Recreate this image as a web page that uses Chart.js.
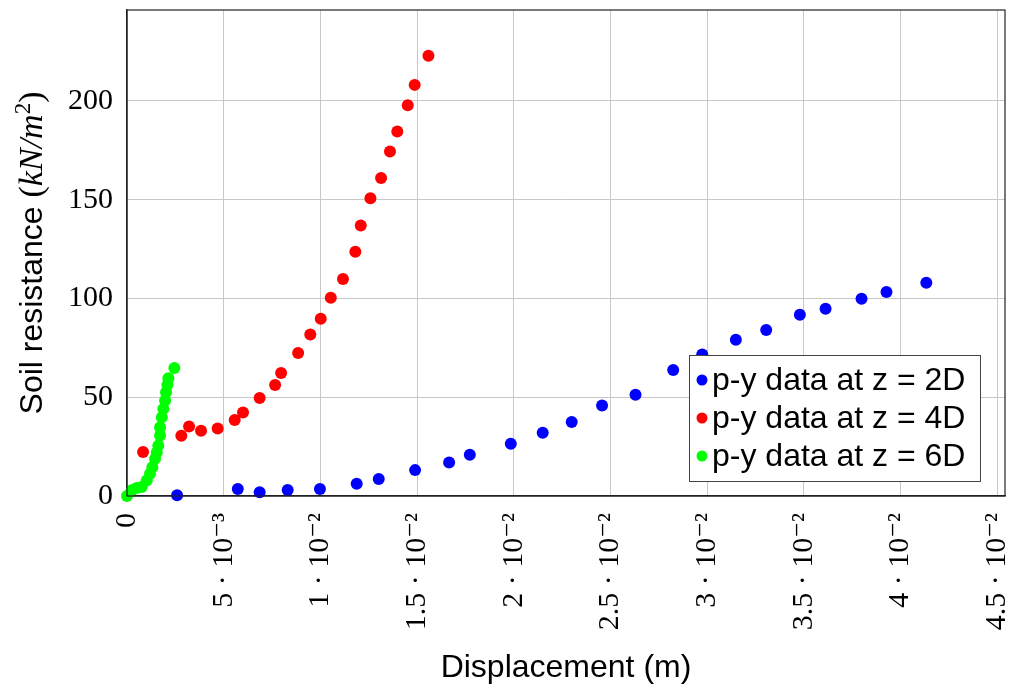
<!DOCTYPE html>
<html>
<head>
<meta charset="utf-8">
<script src="https://cdn.jsdelivr.net/npm/chart.js@4/dist/chart.umd.min.js"></script>
<style>
  html, body { margin: 0; padding: 0; background: #fff; }
  #wrap { width: 1015px; height: 689px; position: relative; }
</style>
</head>
<body>
<div id="wrap"><canvas id="pyChart" width="1015" height="689"></canvas></div>
<script>
// p-y data: displacement (m), soil resistance (kN/m^2)
const disp2D = [0.00259, 0.00573, 0.00686, 0.00831, 0.00998, 0.01188, 0.01302, 0.0149, 0.01666, 0.01773,
  0.01985, 0.0215, 0.023, 0.02457, 0.0263, 0.02825, 0.02975, 0.03149, 0.03306, 0.0348, 0.03613, 0.03799, 0.03928, 0.04134];
const res2D = [0.4, 3.5, 1.9, 3.0, 3.5, 6.2, 8.6, 13.1, 17.0, 20.9,
  26.4, 32.0, 37.5, 45.8, 51.2, 63.8, 71.6, 79.1, 84.0, 91.8, 94.8, 99.8, 103.2, 107.9];

const disp4D = [0.00083, 0.00281, 0.00321, 0.00383, 0.00469, 0.00557, 0.006, 0.00686, 0.00766, 0.00797,
  0.00885, 0.00948, 0.01002, 0.01054, 0.01117, 0.01181, 0.01209, 0.01259, 0.01314, 0.0136, 0.01398, 0.01452, 0.01488, 0.01559];
const res4D = [22.3, 30.5, 35.2, 33.0, 34.2, 38.5, 42.3, 49.6, 56.2, 62.3,
  72.4, 81.7, 89.7, 100.3, 109.8, 123.6, 136.9, 150.7, 161.0, 174.4, 184.5, 197.8, 208.1, 222.9];

const disp6D = [0, 0.00024, 0.0005, 0.00076, 0.00102, 0.00119, 0.00131, 0.00145, 0.00154, 0.00162,
  0.00171, 0.00171, 0.0018, 0.00188, 0.00197, 0.00202, 0.00209, 0.00214, 0.00245];
const res6D = [0, 2.9, 4.1, 4.6, 7.9, 11.3, 14.6, 18.8, 22.2, 25.5,
  30.6, 34.8, 39.8, 44.1, 48.3, 52.5, 56.2, 59.6, 64.8];

const seriesLabels = ['p-y data at z = 2D', 'p-y data at z = 4D', 'p-y data at z = 6D'];
const seriesColors = ['#0000ff', '#ff0000', '#00ff00'];

const xTicks = [0, 0.005, 0.01, 0.015, 0.02, 0.025, 0.03, 0.035, 0.04, 0.045];
const xTickLabels = ['0', '5 · 10⁻³', '1 · 10⁻²', '1.5 · 10⁻²', '2 · 10⁻²', '2.5 · 10⁻²', '3 · 10⁻²', '3.5 · 10⁻²', '4 · 10⁻²', '4.5 · 10⁻²'];
const yTicks = [0, 50, 100, 150, 200];

const SERIF = '"Liberation Serif", "DejaVu Serif", serif';
const SANS = '"Liberation Sans", Arial, sans-serif';

function toPoints(xs, ys) {
  return xs.map((x, i) => ({ x: x, y: ys[i] }));
}

function noPadding(s) {
  s.paddingLeft = 0;
  s.paddingRight = 0;
  s.paddingTop = 0;
  s.paddingBottom = 0;
}

// frame around the plot area + y axis title with math part + legend box
const framePlugin = {
  id: 'frame',
  afterDraw(chart) {
    const ctx = chart.ctx;
    const a = chart.chartArea;
    ctx.save();
    ctx.strokeStyle = '#222';
    ctx.lineWidth = 1.2;
    ctx.strokeRect(a.left, a.top, a.right - a.left, a.bottom - a.top);

    // y title
    const parts = [
      { t: 'Soil resistance ', f: '32px ' + SANS, dy: 0 },
      { t: '(', f: '34px ' + SERIF, dy: 0 },
      { t: 'kN/m', f: 'italic 34px ' + SERIF, dy: 0 },
      { t: '2', f: '23px ' + SERIF, dy: -12 },
      { t: ')', f: '34px ' + SERIF, dy: 0 }
    ];
    let total = 0;
    parts.forEach(p => { ctx.font = p.f; p.w = ctx.measureText(p.t).width; total += p.w; });
    ctx.translate(42, (a.top + a.bottom) / 2);
    ctx.rotate(-Math.PI / 2);
    ctx.fillStyle = '#000';
    ctx.textBaseline = 'alphabetic';
    let cx = -total / 2;
    parts.forEach(p => { ctx.font = p.f; ctx.fillText(p.t, cx, p.dy); cx += p.w; });
    ctx.restore();

    // legend
    ctx.save();
    const bx = a.right - 316, by = a.top + 345, bw = 291, bh = 126;
    ctx.fillStyle = '#fff';
    ctx.fillRect(bx, by, bw, bh);
    ctx.strokeStyle = '#444';
    ctx.lineWidth = 1;
    ctx.strokeRect(bx + 0.5, by + 0.5, bw, bh);
    ctx.font = '32px ' + SANS;
    ctx.textBaseline = 'middle';
    chart.data.datasets.forEach((ds, i) => {
      const cy = by + 25 + i * 38;
      ctx.fillStyle = ds.backgroundColor;
      ctx.beginPath();
      ctx.arc(bx + 13, cy, 5.5, 0, Math.PI * 2);
      ctx.fill();
      ctx.fillStyle = '#000';
      ctx.fillText(ds.label, bx + 23, cy + 1);
    });
    ctx.restore();
  }
};

new Chart(document.getElementById('pyChart'), {
  type: 'scatter',
  data: {
    datasets: [
      { label: seriesLabels[0], data: toPoints(disp2D, res2D), backgroundColor: seriesColors[0] },
      { label: seriesLabels[1], data: toPoints(disp4D, res4D), backgroundColor: seriesColors[1] },
      { label: seriesLabels[2], data: toPoints(disp6D, res6D), backgroundColor: seriesColors[2] }
    ].map(d => Object.assign(d, { pointRadius: 6, pointHoverRadius: 6, pointBorderWidth: 0, borderWidth: 0, clip: false }))
  },
  options: {
    responsive: false,
    animation: false,
    devicePixelRatio: 1,
    layout: { padding: { top: 10, right: 10, left: 0, bottom: 0 } },
    plugins: {
      legend: { display: false },
      tooltip: { enabled: false }
    },
    scales: {
      x: {
        type: 'linear',
        min: 0,
        max: 0.04541,
        afterBuildTicks: s => { s.ticks = xTicks.map(v => ({ value: v })); },
        afterFit: s => { s.height = 193; noPadding(s); },
        grid: { color: '#c8c8c8', lineWidth: 1, drawTicks: false },
        border: { color: '#222', width: 1.2 },
        ticks: {
          autoSkip: false,
          minRotation: 90,
          maxRotation: 90,
          padding: 17,
          color: '#000',
          font: { family: SERIF, size: 30 },
          callback: v => xTickLabels[xTicks.indexOf(v)]
        },
        title: {
          display: true,
          text: 'Displacement (m)',
          color: '#000',
          font: { family: SANS, size: 32 },
          padding: { top: 4, bottom: 2 }
        }
      },
      y: {
        type: 'linear',
        min: 0,
        max: 246,
        afterBuildTicks: s => { s.ticks = yTicks.map(v => ({ value: v })); },
        afterFit: s => { s.width = 127; noPadding(s); },
        grid: { color: '#c8c8c8', lineWidth: 1, drawTicks: false },
        border: { color: '#222', width: 1.2 },
        ticks: {
          autoSkip: false,
          padding: 14,
          color: '#000',
          font: { family: SERIF, size: 30 }
        }
      }
    }
  },
  plugins: [framePlugin]
});
</script>
</body>
</html>
